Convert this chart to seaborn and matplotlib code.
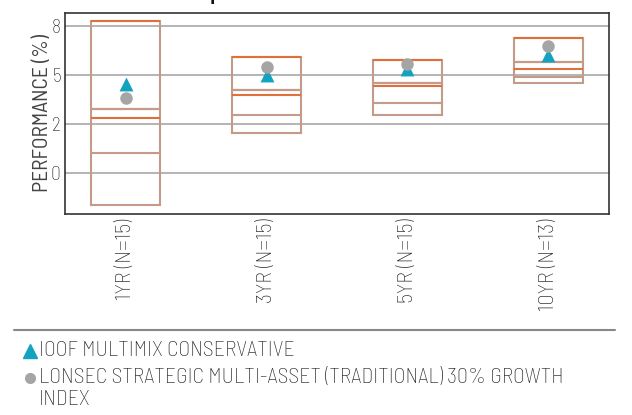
import matplotlib
matplotlib.use("Agg")
import matplotlib.pyplot as plt
from matplotlib.lines import Line2D
import numpy as np
import pandas as pd
import seaborn as sns

# Данные
periods = ["1YR (N=15)", "3YR (N=15)", "5YR (N=15)", "10YR (N=13)"]
range_high = [7.76, 5.92, 5.77, 6.90]
upper_line = [3.28, 4.25, 4.62, 5.66]
median_line = [2.81, 3.99, 4.44, 5.31]
lower_line = [1.05, 2.96, 3.60, 4.91]
range_low = [-1.62, 2.05, 2.97, 4.59]
fund_perf = [4.53, 5.03, 5.34, 6.03]
index_perf = [3.83, 5.44, 5.58, 6.49]
yticks = [0, 2.5, 5, 7.5]
ytick_labels = ["0", "2", "5", "8"]
fund_name = "IOOF MULTIMIX CONSERVATIVE"
index_name = "LONSEC STRATEGIC MULTI-ASSET (TRADITIONAL) 30% GROWTH\nINDEX"

TAN = "#c49a88"
ORANGE = "#e0703a"
TEAL = "#14a3bf"
GREY = "#a5a5a5"
TEXT = "#222222"

sns.set_theme(style="white")
plt.rcParams["font.family"] = ["Barlow Semi Condensed", "DejaVu Sans"]
plt.rcParams["font.weight"] = "light"

df = pd.DataFrame({"period": periods, "fund": fund_perf, "index": index_perf})

fig = plt.figure(figsize=(6.32, 4.15), dpi=100)
ax = fig.add_axes([65 / 632, 1 - 214.3 / 415, 544.3 / 632, 201.6 / 415])

# маркеры фонда и индекса
sns.stripplot(data=df, x="period", y="fund", order=periods, marker="^", size=10,
              color=TEAL, jitter=False, linewidth=0, ax=ax, zorder=4)
sns.stripplot(data=df, x="period", y="index", order=periods, marker="o", size=9,
              color=GREY, jitter=False, linewidth=0, ax=ax, zorder=5)

# "ящики" диапазонов
x = np.arange(len(periods))
w = 0.49
heights = np.array(range_high) - np.array(range_low)
ax.bar(x, heights, bottom=range_low, width=w, fill=False, edgecolor=TAN,
       linewidth=1.5, zorder=2)
ax.hlines(range_high, x - w / 2, x + w / 2, color=ORANGE, lw=1.5, zorder=3)
ax.hlines(upper_line, x - w / 2, x + w / 2, color=TAN, lw=1.6, zorder=3)
ax.hlines(median_line, x - w / 2, x + w / 2, color=ORANGE, lw=1.5, zorder=3)
ax.hlines(lower_line, x - w / 2, x + w / 2, color=TAN, lw=1.5, zorder=3)

ax.set_xlim(-0.431, 3.434)
ax.set_ylim(-2.09, 8.19)
ax.set_yticks(yticks)
ax.set_yticklabels(ytick_labels, fontsize=14, color=TEXT)
ax.set_xticks(x)
ax.set_xticklabels(periods, rotation=90, fontsize=16, color=TEXT)
ax.tick_params(axis="both", length=0, pad=3)
ax.yaxis.grid(True, color="#a0a0a0", linewidth=1.1)
ax.xaxis.grid(False)
ax.set_axisbelow(True)
ax.set_xlabel("")
ax.set_ylabel("PERFORMANCE (%)", fontsize=15.5, color="#444444", labelpad=-1)
for sp in ax.spines.values():
    sp.set_color("#333333")
    sp.set_linewidth(1.2)

# обрезанный заголовок сверху
fig.text(210 / 632, 1.0, "p", fontsize=14, fontweight="bold", color="#111111",
         ha="left", va="baseline", family="Liberation Sans")

# легенда
fig.add_artist(Line2D([14 / 632, 615 / 632], [1 - 330 / 415] * 2,
                      transform=fig.transFigure, color="#888888", lw=1.5))
fig.add_artist(Line2D([30 / 632], [1 - 351 / 415], transform=fig.transFigure,
                      marker="^", markersize=10, color=TEAL, linestyle="none"))
fig.add_artist(Line2D([30 / 632], [1 - 378 / 415], transform=fig.transFigure,
                      marker="o", markersize=7, color=GREY, linestyle="none"))
fig.text(39 / 632, 1 - 350 / 415, fund_name, fontsize=15.7, color=TEXT, va="center")
fig.text(39 / 632, 1 - 368 / 415, index_name, fontsize=15.7, color=TEXT, va="top",
         linespacing=1.17)

fig.savefig("out.png", dpi=100)
